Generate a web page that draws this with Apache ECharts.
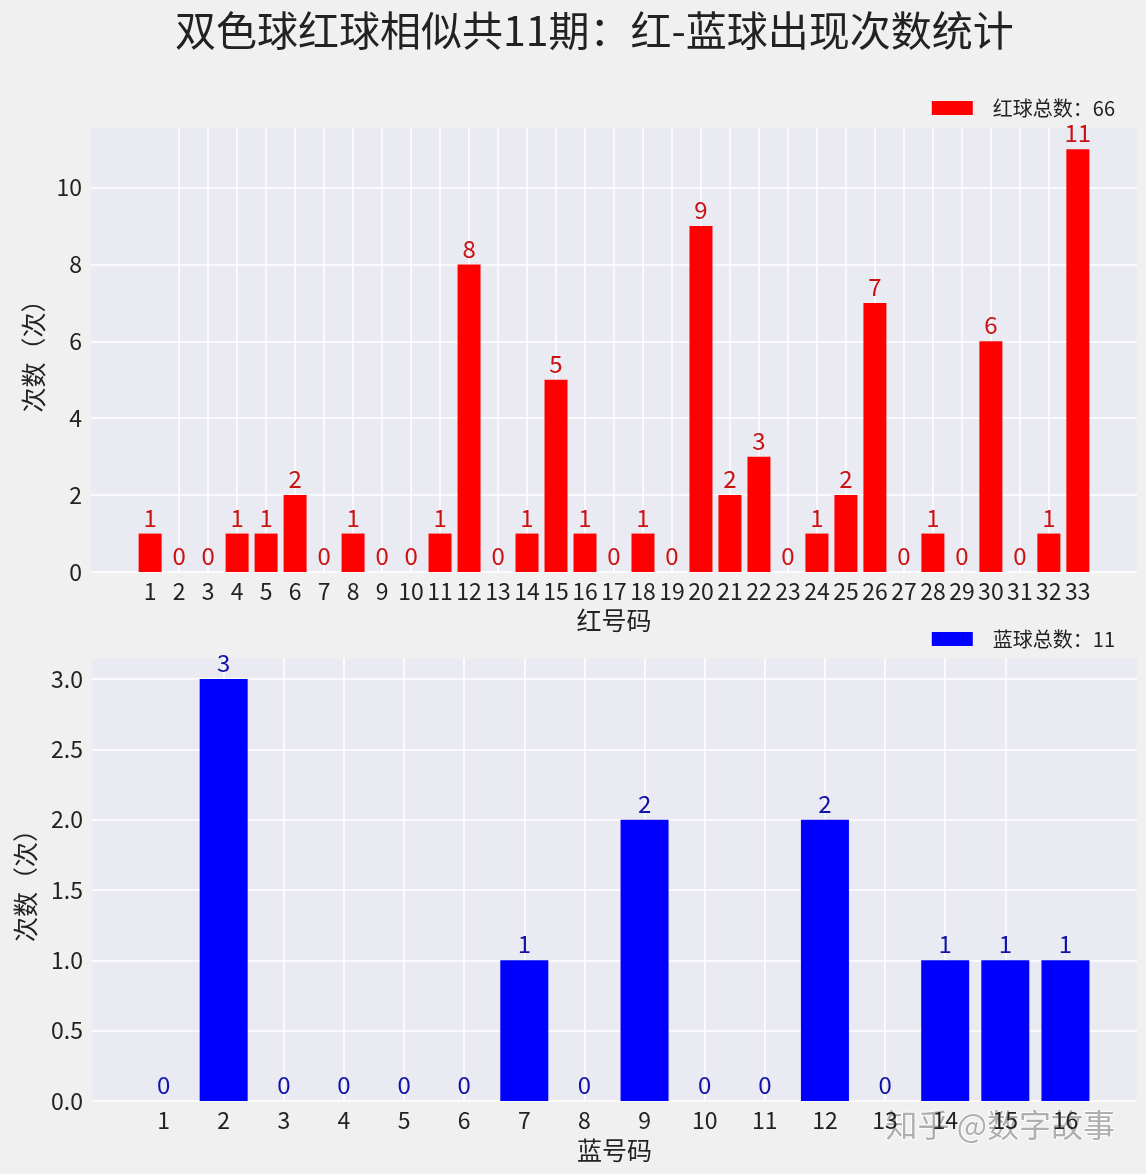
<!DOCTYPE html>
<html>
<head>
<meta charset="utf-8">
<script src="https://cdn.jsdelivr.net/npm/echarts@6/dist/echarts.min.js"></script>
<style>
  html, body { margin: 0; padding: 0; background: #f0f0f0; }
  #main { width: 1146px; height: 1174px; }
</style>
</head>
<body>
<div id="main"></div>
<script>
// 红球 1-33 出现次数
var redBalls = []
for (var i = 1; i <= 33; i++) redBalls.push(i)
var redCounts = [1, 0, 0, 1, 1, 2, 0, 1, 0, 0, 1, 8, 0, 1, 5, 1, 0, 1, 0, 9, 2, 3, 0, 1, 2, 7, 0, 1, 0, 6, 0, 1, 11]
// 蓝球 1-16 出现次数
var blueBalls = []
for (var j = 1; j <= 16; j++) blueBalls.push(j)
var blueCounts = [0, 3, 0, 0, 0, 0, 1, 0, 2, 0, 0, 2, 0, 1, 1, 1]

var FONT = '"Noto Sans CJK SC", sans-serif'
var sum = function (arr) { return arr.reduce(function (a, b) { return a + b }, 0) }
var redName = '红球总数：' + sum(redCounts)
var blueName = '蓝球总数：' + sum(blueCounts)

var chart = echarts.init(document.getElementById('main'))

function xAxisOf(gridIndex, ticks, min, max, name, nameGap) {
  return {
    gridIndex: gridIndex,
    type: 'value',
    min: min,
    max: max,
    name: name,
    nameLocation: 'middle',
    nameGap: nameGap,
    nameTextStyle: { fontSize: 25, color: '#222', fontFamily: FONT },
    axisLine: { show: false },
    axisTick: { show: false, customValues: ticks },
    axisLabel: {
      customValues: ticks,
      fontSize: 23,
      color: '#222',
      fontFamily: FONT,
      margin: 8
    },
    splitLine: { show: true, showMinLine: false, showMaxLine: false, lineStyle: { color: '#ffffff', width: 1.5 } }
  }
}

function yAxisOf(gridIndex, max, interval, nameGap, digits) {
  return {
    gridIndex: gridIndex,
    type: 'value',
    min: 0,
    max: max,
    interval: interval,
    name: '次数（次）',
    nameLocation: 'middle',
    nameRotate: 90,
    nameGap: nameGap,
    nameTextStyle: { fontSize: 25, color: '#222', fontFamily: FONT },
    axisLine: { show: false },
    axisTick: { show: false },
    axisLabel: {
      fontSize: 23,
      color: '#222',
      fontFamily: FONT,
      margin: 9,
      showMaxLabel: false,
      formatter: function (v) { return v.toFixed(digits) }
    },
    splitLine: { show: true, showMaxLine: false, lineStyle: { color: '#ffffff', width: 1.5 } }
  }
}

function labelOf(color) {
  return {
    show: true,
    position: 'top',
    distance: 4,
    fontSize: 24,
    color: color,
    fontFamily: FONT,
    formatter: function (p) { return p.value[1] }
  }
}

function legendOf(name, top) {
  return {
    data: [name],
    right: 26,
    top: top,
    icon: 'rect',
    itemWidth: 41,
    itemHeight: 14,
    textStyle: { fontSize: 20, color: '#222', fontFamily: FONT, padding: [0, 0, 0, 15] }
  }
}

chart.setOption({
  backgroundColor: '#f0f0f0',
  title: {
    text: '双色球红球相似共11期：红-蓝球出现次数统计',
    left: 170,
    top: 5,
    textStyle: { fontSize: 41, fontWeight: 'normal', color: '#222', fontFamily: FONT }
  },
  legend: [
    legendOf(redName, 93),
    legendOf(blueName, 624)
  ],
  grid: [
    { left: 91, right: 9, top: 128, height: 444, backgroundColor: '#eaeaf2', show: true, borderWidth: 0 },
    { left: 92, right: 9, top: 658, height: 443, backgroundColor: '#eaeaf2', show: true, borderWidth: 0 }
  ],
  xAxis: [
    xAxisOf(0, redBalls, -1.04, 35.04, '红号码', 36),
    xAxisOf(1, blueBalls, -0.19, 17.19, '蓝号码', 37)
  ],
  yAxis: [
    yAxisOf(0, 11.55, 2, 42, 0),
    yAxisOf(1, 3.15, 0.5, 54, 1)
  ],
  series: [
    {
      name: redName,
      type: 'bar',
      xAxisIndex: 0,
      yAxisIndex: 0,
      barWidth: 23,
      itemStyle: { color: '#ff0000' },
      label: labelOf('#cc1111'),
      data: redBalls.map(function (b, k) { return [b, redCounts[k]] })
    },
    {
      name: blueName,
      type: 'bar',
      xAxisIndex: 1,
      yAxisIndex: 1,
      barWidth: 48,
      itemStyle: { color: '#0000ff' },
      label: labelOf('#1111aa'),
      data: blueBalls.map(function (b, k) { return [b, blueCounts[k]] })
    }
  ],
  graphic: [
    {
      type: 'text',
      right: 30,
      top: 1108,
      silent: true,
      style: {
        text: '知乎 @数字故事',
        fontSize: 32,
        fontFamily: FONT,
        fill: 'rgba(150,150,150,0.75)',
        stroke: 'rgba(255,255,255,0.8)',
        lineWidth: 2
      }
    }
  ]
})
</script>
</body>
</html>
